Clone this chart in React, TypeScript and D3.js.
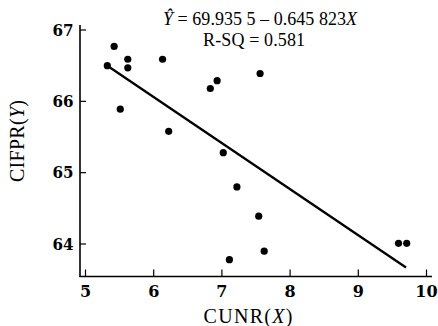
import React from "react";
import * as d3 from "d3";

const cunr = [5.32, 5.42, 5.62, 5.62, 5.51, 6.13, 6.22, 6.83, 6.93, 7.56, 7.02, 7.22, 7.54, 7.11, 7.62, 9.59, 9.71];
const cifpr = [66.5, 66.77, 66.59, 66.47, 65.89, 66.59, 65.58, 66.18, 66.29, 66.39, 65.28, 64.8, 64.39, 63.78, 63.9, 64.01, 64.01];
const xTicks = [5, 6, 7, 8, 9, 10];
const yTicks = [64, 65, 66, 67];
const intercept = 69.9355;
const slope = -0.645823;
const fitRange = [5.32, 9.7];

const W = 438;
const H = 326;
const axisX = 80;
const axisY = 276.5;

export default function App() {
  const x = d3.scaleLinear().domain([5, 10]).range([85.5, 426.5]);
  const y = d3.scaleLinear().domain([64, 67]).range([244, 30]);
  const line = d3
    .line<number>()
    .x((d) => x(d))
    .y((d) => y(intercept + slope * d));
  const font = "'Liberation Serif', 'DejaVu Serif', serif";
  const tickFont = "'DejaVu Serif', serif";
  return (
    <svg
      width={W}
      height={H}
      style={{ position: "absolute", left: 0, top: 0, background: "#fff" }}
      fontFamily={font}
    >
      <rect x={0} y={0} width={W} height={H} fill="#fff" />
      {/* axes */}
      <line x1={axisX} x2={axisX} y1={25} y2={axisY + 0.5} stroke="#000" strokeWidth={1.6} />
      <line x1={axisX - 0.5} x2={432} y1={axisY} y2={axisY} stroke="#000" strokeWidth={1.6} />
      {xTicks.map((t) => (
        <g key={"x" + t}>
          <line x1={x(t)} x2={x(t)} y1={axisY} y2={axisY - 7} stroke="#000" strokeWidth={1.2} />
          <text x={x(t)} y={297} textAnchor="middle" fontSize={16} fontWeight="bold" fontFamily={tickFont}>
            {t}
          </text>
        </g>
      ))}
      {yTicks.map((t) => (
        <g key={"y" + t}>
          <line x1={axisX} x2={axisX + 6} y1={y(t)} y2={y(t)} stroke="#000" strokeWidth={1.2} />
          <text x={73.5} y={y(t) + 5.5} textAnchor="end" fontSize={16} fontWeight="bold" fontFamily={tickFont} textLength={21} lengthAdjust="spacingAndGlyphs">
            {t}
          </text>
        </g>
      ))}
      {/* axis titles */}
      <text x={248} y={323} textAnchor="middle" fontSize={20} textLength={89} lengthAdjust="spacing">
        CUNR(<tspan fontStyle="italic">X</tspan>)
      </text>
      <text
        transform={`translate(24,141) rotate(-90)`}
        textAnchor="middle"
        fontSize={20}
        textLength={82}
        lengthAdjust="spacing"
      >
        CIFPR(<tspan fontStyle="italic">Y</tspan>)
      </text>
      {/* regression line */}
      <path d={line(fitRange) || ""} stroke="#000" strokeWidth={2.3} fill="none" />
      {/* points */}
      {cunr.map((v, i) => (
        <circle key={i} cx={x(v)} cy={y(cifpr[i])} r={3.6} fill="#000" />
      ))}
      {/* equation */}
      <text x={260} y={25} textAnchor="middle" fontSize={18} textLength={194} lengthAdjust="spacing">
        <tspan fontStyle="italic">Ŷ</tspan> = 69.935 5 – 0.645 823<tspan fontStyle="italic">X</tspan>
      </text>
      <text x={254} y={46} textAnchor="middle" fontSize={18} textLength={102} lengthAdjust="spacing">
        R-SQ = 0.581
      </text>
    </svg>
  );
}
